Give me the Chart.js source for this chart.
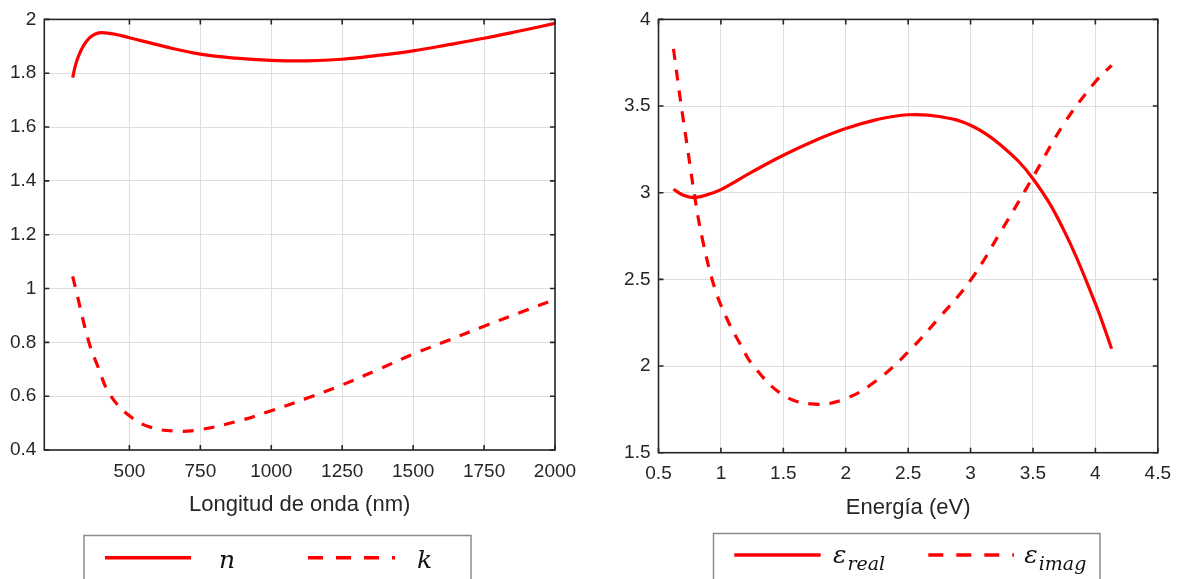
<!DOCTYPE html>
<html>
<head>
<meta charset="utf-8">
<script src="https://cdn.jsdelivr.net/npm/chart.js@4.4.1/dist/chart.umd.min.js"></script>
<style>
  html, body { margin: 0; padding: 0; background: #fff; }
  body { width: 1181px; height: 579px; position: relative; overflow: hidden; }
  .panel { position: absolute; top: 0; height: 579px; }
  #left_panel { left: 0; width: 590px; }
  #right_panel { left: 590px; width: 591px; }
</style>
</head>
<body>
<div class="panel" id="left_panel"><canvas id="nk_chart"></canvas></div>
<div class="panel" id="right_panel"><canvas id="eps_chart"></canvas></div>
<script>
// ---- left panel: n and k vs wavelength (nm)
const wl_n = [300, 310, 323, 340, 360, 380, 403, 450, 500, 625, 750, 875, 1000, 1125, 1250, 1375, 1500, 1625, 1750, 1875, 2000];
const n_vals = [1.784, 1.830, 1.870, 1.905, 1.932, 1.946, 1.951, 1.945, 1.932, 1.899, 1.871, 1.856, 1.848, 1.846, 1.852, 1.866, 1.883, 1.906, 1.930, 1.957, 1.985];

const wl_k = [300, 310, 356, 390, 430, 500, 576, 669, 750, 875, 1000, 1125, 1250, 1375, 1500, 1625, 1750, 1875, 2000];
const k_vals = [1.045, 1.002, 0.805, 0.707, 0.608, 0.527, 0.484, 0.470, 0.476, 0.505, 0.546, 0.592, 0.642, 0.698, 0.756, 0.808, 0.860, 0.910, 0.959];

const wl_ticks = [500, 750, 1000, 1250, 1500, 1750, 2000];
const nk_ticks = [0.4, 0.6, 0.8, 1, 1.2, 1.4, 1.6, 1.8, 2];

// ---- right panel: permittivity vs energy (eV)
const en_real = [0.62, 0.70, 0.78, 0.87, 1.0, 1.25, 1.5, 1.75, 2.0, 2.25, 2.5, 2.75, 3.0, 3.25, 3.5, 3.75, 4.0, 4.13];
const eps_real = [3.02, 2.985, 2.972, 2.984, 3.018, 3.12, 3.216, 3.30, 3.37, 3.422, 3.450, 3.440, 3.389, 3.27, 3.081, 2.78, 2.36, 2.10];

const en_imag = [0.62, 0.676, 0.735, 0.795, 0.854, 0.95, 1.05, 1.152, 1.256, 1.5, 1.75, 2.0, 2.25, 2.5, 2.75, 3.0, 3.25, 3.5, 3.75, 4.0, 4.13];
const eps_imag = [3.83, 3.533, 3.245, 2.956, 2.725, 2.45, 2.27, 2.13, 2.005, 1.832, 1.78, 1.812, 1.918, 2.081, 2.28, 2.495, 2.785, 3.09, 3.40, 3.64, 3.735];

const en_ticks = [0.5, 1, 1.5, 2, 2.5, 3, 3.5, 4, 4.5];
const eps_ticks = [1.5, 2, 2.5, 3, 3.5, 4];

Chart.defaults.font.family = '"Liberation Sans", Arial, sans-serif';
Chart.defaults.color = '#262626';

function toPoints(xs, ys){
    return xs.map((x, i) => ({x: x, y: ys[i]}));
}

function fmt(v){
    return String(Number(v.toFixed(2)));
}

// box + inward tick marks like the original plot
const axesBox = {
    id: 'axesBox',
    afterDatasetsDraw(chart){
        const ctx = chart.ctx;
        const a = chart.chartArea;
        const sx = chart.scales.x, sy = chart.scales.y;
        const tl = 5;
        ctx.save();
        ctx.strokeStyle = '#262626';
        ctx.lineWidth = 1.6;
        ctx.beginPath();
        sx.ticks.forEach(t => {
            const px = sx.getPixelForValue(t.value);
            ctx.moveTo(px, a.bottom); ctx.lineTo(px, a.bottom - tl);
            ctx.moveTo(px, a.top); ctx.lineTo(px, a.top + tl);
        });
        sy.ticks.forEach(t => {
            const py = sy.getPixelForValue(t.value);
            ctx.moveTo(a.left, py); ctx.lineTo(a.left + tl, py);
            ctx.moveTo(a.right, py); ctx.lineTo(a.right - tl, py);
        });
        ctx.stroke();
        ctx.strokeRect(a.left, a.top, a.right - a.left, a.bottom - a.top);
        ctx.restore();
    }
};

// legend box under the axis, labels like "eps_real" get a subscript
const boxLegend = {
    id: 'boxLegend',
    afterDraw(chart, args, opts){
        const ctx = chart.ctx;
        ctx.save();
        ctx.fillStyle = '#fff';
        ctx.fillRect(opts.left, opts.top, opts.right - opts.left, 80);
        ctx.strokeStyle = '#8c8c8c';
        ctx.lineWidth = 1.5;
        ctx.strokeRect(opts.left, opts.top, opts.right - opts.left, 80);

        chart.data.datasets.forEach((ds, i) => {
            const it = opts.items[i];
            ctx.strokeStyle = ds.borderColor;
            ctx.lineWidth = 3.6;
            ctx.setLineDash(ds.borderDash ? [15, 13] : []);
            ctx.beginPath();
            ctx.moveTo(it.x1, opts.lineY);
            ctx.lineTo(it.x2, opts.lineY);
            ctx.stroke();
            ctx.setLineDash([]);

            const parts = ds.label.split('_');
            ctx.fillStyle = '#111';
            ctx.textBaseline = 'alphabetic';
            ctx.textAlign = 'left';
            ctx.font = 'italic 25px "DejaVu Serif", serif';
            ctx.fillText(parts[0], it.tx, opts.textY);
            if(parts[1]){
                const w = ctx.measureText(parts[0]).width;
                ctx.font = 'italic 19px "DejaVu Serif", serif';
                ctx.fillText(parts[1], it.tx + w + 1, opts.textY + 7);
            }
        });
        ctx.restore();
    }
};

function axisOpts(tickList, title, fixedSize, isX){
    const o = {
        type: 'linear',
        min: tickList[0],
        max: tickList[tickList.length - 1],
        border: {display: false},
        grid: {color: '#dedede', lineWidth: 1, drawTicks: false},
        ticks: {
            padding: isX ? 10 : 8,
            font: {size: 19},
            color: '#262626',
            maxRotation: 0,
            autoSkip: false,
            callback: v => fmt(v)
        },
        afterBuildTicks: s => { s.ticks = tickList.map(v => ({value: v})); },
        afterFit: s => { if(isX){ s.height = fixedSize; } else { s.width = fixedSize; } }
    };
    if(title){
        o.title = {display: true, text: title, font: {size: 22}, color: '#262626', padding: {top: 0, bottom: 0}};
    }
    return o;
}

function lineSet(label, pts, dashed){
    return {
        label: label,
        data: pts,
        borderColor: '#ff0000',
        backgroundColor: '#ff0000',
        borderWidth: 3.2,
        borderDash: dashed ? [11, 10] : undefined,
        pointRadius: 0,
        fill: false,
        tension: 0.4
    };
}

function initNkChart(){
    const ctx = document.getElementById('nk_chart').getContext('2d');
    const xAxis = axisOpts(wl_ticks, 'Longitud de onda (nm)', 68, true);
    xAxis.min = 200;
    new Chart(ctx, {
        type: 'line',
        data: {
            datasets: [
                lineSet('n', toPoints(wl_n, n_vals), false),
                lineSet('k', toPoints(wl_k, k_vals), true)
            ]
        },
        options: {
            responsive: true,
            maintainAspectRatio: false,
            animation: false,
            layout: {padding: {left: 0, right: 35, top: 16.7, bottom: 61}},
            scales: {
                x: xAxis,
                y: axisOpts(nk_ticks, null, 44.3, false)
            },
            plugins: {
                legend: {display: false},
                tooltip: {enabled: false},
                boxLegend: {
                    left: 84, right: 471, top: 535.5, lineY: 557.7, textY: 567.5,
                    items: [{x1: 105, x2: 191, tx: 219}, {x1: 308, x2: 395, tx: 417}]
                }
            }
        },
        plugins: [axesBox, boxLegend]
    });
}

function initEpsChart(){
    const ctx = document.getElementById('eps_chart').getContext('2d');
    new Chart(ctx, {
        type: 'line',
        data: {
            datasets: [
                lineSet('ε_real', toPoints(en_real, eps_real), false),
                lineSet('ε_imag', toPoints(en_imag, eps_imag), true)
            ]
        },
        options: {
            responsive: true,
            maintainAspectRatio: false,
            animation: false,
            layout: {padding: {left: 0, right: 16, top: 19, bottom: 58.3}},
            scales: {
                x: axisOpts(en_ticks, 'Energía (eV)', 68, true),
                y: axisOpts(eps_ticks, null, 68.5, false)
            },
            plugins: {
                legend: {display: false},
                tooltip: {enabled: false},
                boxLegend: {
                    left: 123.5, right: 510, top: 533.5, lineY: 555, textY: 563.3,
                    items: [{x1: 144.3, x2: 230.7, tx: 243}, {x1: 338.3, x2: 424, tx: 434.3}]
                }
            }
        },
        plugins: [axesBox, boxLegend]
    });
}

initNkChart();
initEpsChart();
</script>
</body>
</html>
